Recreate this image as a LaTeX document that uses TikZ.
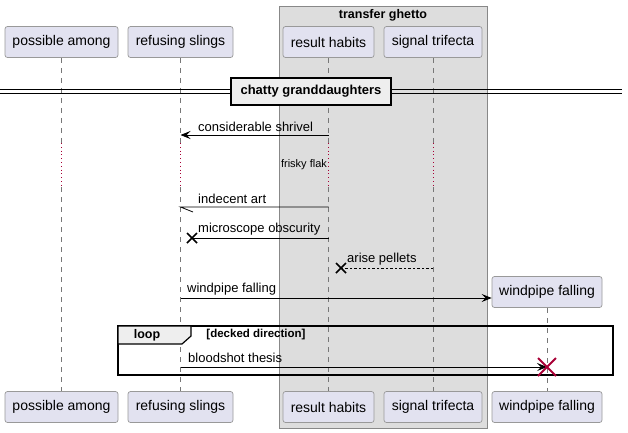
\documentclass[tikz,border=0pt]{standalone}
\usepackage{fontspec}
\setmainfont{Liberation Sans}
\usetikzlibrary{arrows.meta,calc}
\definecolor{partfill}{HTML}{E2E2F0}
\definecolor{partdraw}{HTML}{999999}
\definecolor{grpfill}{HTML}{DDDDDD}
\definecolor{grpdraw}{HTML}{888888}
\definecolor{crim}{HTML}{A80036}
\definecolor{secfill}{HTML}{EEEEEE}
\definecolor{lifegray}{HTML}{777777}
\begin{document}
\begin{tikzpicture}[x=1pt,y=-1pt,
  part/.style={draw=partdraw, fill=partfill, rounded corners=2.5pt, minimum height=31pt, inner sep=0pt, font=\fontsize{14}{16}\selectfont, line width=0.7pt},
  life/.style={draw=lifegray, dash pattern=on 5pt off 5pt, line width=0.6pt},
  delayline/.style={draw=crim, dash pattern=on 0.8pt off 3pt, line width=0.8pt},
  msg/.style={draw=black, line width=0.8pt},
  tip/.style={-{Stealth[length=10pt,width=8pt,inset=4pt]}},
  lbl/.style={anchor=west, inner sep=0pt, font=\fontsize{13}{15}\selectfont},
  xmark/.style={line width=1.5pt},
  boldlbl/.style={inner sep=0pt, font=\bfseries\fontsize{12.5}{14}\selectfont}
]
\useasboundingbox (0,0) rectangle (628,432);

% group box
\node[draw=grpdraw, fill=grpfill, line width=0.8pt, minimum width=208pt, minimum height=422pt, inner sep=0pt] (grp) at (383,217) {};
\node[boldlbl] (grpt) at (383,15) {transfer ghetto};

% participants top
\node[part, minimum width=113pt] (pa) at (61.5,42) {possible among};
\node[part, minimum width=105pt] (rs) at (180.5,42) {refusing slings};
\node[part, minimum width=91pt] (rh) at (328.5,42) {result habits};
\node[part, minimum width=98pt] (st) at (433,42) {signal trifecta};
\node[part, minimum width=110pt] (wf) at (547,292) {windpipe falling};
% participants bottom
\node[part, minimum width=113pt] (pab) at (61.5,407) {possible among};
\node[part, minimum width=105pt] (rsb) at (180.5,407) {refusing slings};
\node[part, minimum width=91pt] (rhb) at (328.5,407) {result habits};
\node[part, minimum width=98pt] (stb) at (433,407) {signal trifecta};
\node[part, minimum width=110pt] (wfb) at (547,407) {windpipe falling};

% lifelines with delay
\foreach \n/\x in {pa/61.5, rs/180.5, rh/328.5, st/433}{
  \coordinate (\n d1) at (\x,143);
  \coordinate (\n d2) at (\x,187);
  \draw[life] (\n.south) -- (\n d1);
  \draw[delayline] (\n d1) -- (\n d2);
  \draw[life] (\n d2) -- (\n b.north);
}
\draw[life] (wf.south) -- (wfb.north);

% divider
\coordinate (dvl1) at (0,89.5);
\coordinate (dvr1) at (622,89.5);
\coordinate (dvl2) at (0,93);
\coordinate (dvr2) at (622,93);
\draw[line width=1pt] (dvl1) -- (dvr1) (dvl2) -- (dvr2);
\node[draw=black, fill=secfill, line width=1.5pt, minimum width=160pt, minimum height=27pt, inner sep=0pt, font=\bfseries\fontsize{13}{15}\selectfont] (div) at (311,91.5) {chatty granddaughters};

% considerable shrivel
\coordinate (m1a) at (328.5,135);
\coordinate (m1b) at (180.5,135);
\draw[msg, tip] (m1a) -- (m1b);
\node[lbl] (l1) at (198,127) {considerable shrivel};

% delay text
\node[inner sep=0pt, font=\fontsize{11}{13}\selectfont] (dl) at (304,165) {frisky flak};

% indecent art (half arrow)
\coordinate (m2a) at (328.5,207);
\coordinate (m2b) at (180.5,207);
\coordinate (m2h) at (193,212);
\draw[msg] (m2a) -- (m2b) -- (m2h);
\node[lbl] (l2) at (198,199) {indecent art};

% microscope obscurity
\coordinate (m3a) at (328.5,238);
\coordinate (m3x) at (192,238);
\draw[msg] (m3a) -- (m3x);
\draw[xmark] ($(m3x)+(-5,-5)$) -- ($(m3x)+(5,5)$) ($(m3x)+(-5,5)$) -- ($(m3x)+(5,-5)$);
\node[lbl] (l3) at (198,229) {microscope obscurity};

% arise pellets
\coordinate (m4a) at (433,268);
\coordinate (m4x) at (341,268);
\draw[msg, dash pattern=on 2.5pt off 2pt] (m4a) -- (m4x);
\draw[xmark] ($(m4x)+(-5,-5)$) -- ($(m4x)+(5,5)$) ($(m4x)+(-5,5)$) -- ($(m4x)+(5,-5)$);
\node[lbl] (l4) at (347,259) {arise pellets};

% windpipe falling create
\coordinate (m5a) at (180.5,298);
\draw[msg, tip] (m5a) -- (wf.west |- m5a);
\node[lbl] (l5) at (187,289) {windpipe falling};

% loop
\draw[line width=1.5pt] (118,326) rectangle (613,375);
\coordinate (lt1) at (118,326);
\draw[line width=1.2pt, fill=secfill] (lt1) -- (191,326) -- (191,336) -- (182,344) -- (118,344) -- cycle;
\node[boldlbl] (lp) at (147,335) {loop};
\node[inner sep=0pt, font=\bfseries\fontsize{11.5}{13}\selectfont] (lg) at (256,335) {[decked direction]};

% bloodshot thesis
\coordinate (m6a) at (180.5,367);
\coordinate (m6x) at (547,367);
\draw[msg, tip] (m6a) -- (m6x);
\draw[line width=2pt, crim] ($(m6x)+(-9,-9)$) -- ($(m6x)+(9,9)$) ($(m6x)+(-9,9)$) -- ($(m6x)+(9,-9)$);
\node[lbl] (l6) at (188,358) {bloodshot thesis};
\end{tikzpicture}
\end{document}
